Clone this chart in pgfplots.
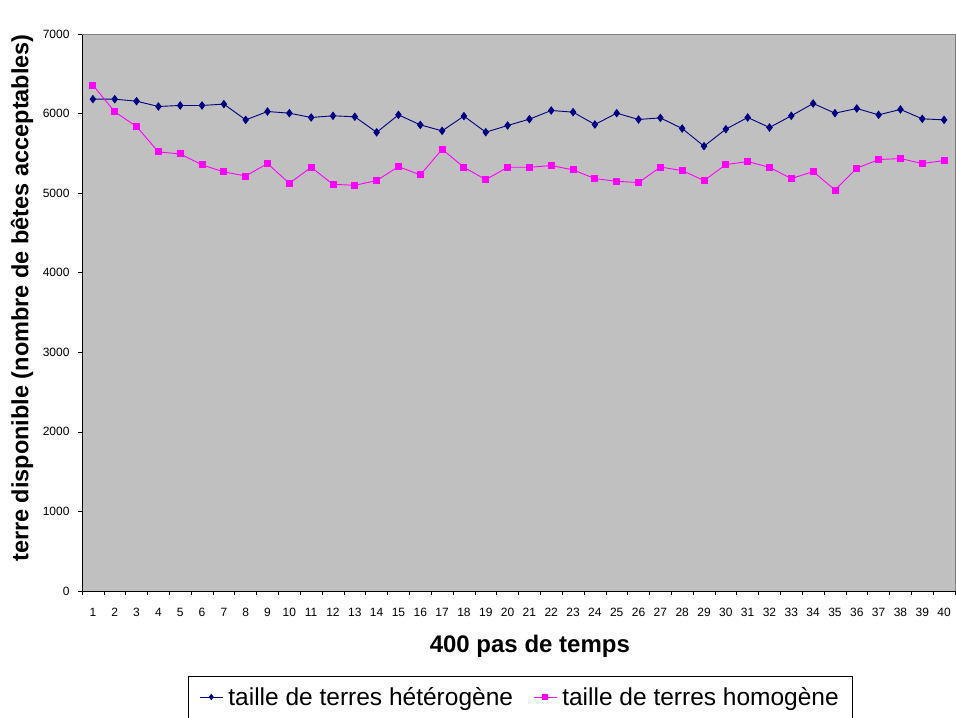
\documentclass[border=0pt]{standalone}
\usepackage{pgfplots}
\pgfplotsset{compat=1.18}
\usepackage{fontspec}
\setmainfont{Liberation Sans}
\definecolor{bgray}{HTML}{C0C0C0}
\definecolor{navyc}{HTML}{000080}
\definecolor{magc}{HTML}{FF00FF}
\begin{document}
\begin{tikzpicture}[x=1pt,y=1pt]
\begin{axis}[
  at={(0,0)}, anchor=south west,
  scale only axis, width=873pt, height=557pt,
  xmin=0.5, xmax=40.5, ymin=0, ymax=7000,
  axis x line*=bottom, axis y line*=left,
  axis line style={black, line width=0.8pt, -},
  axis background/.style={fill=bgray},
  xtick={1,...,40}, major x tick style={draw=none},
  minor xtick={0.5,1.5,...,40.5},
  minor tick length=4pt,
  minor x tick style={black, line width=0.6pt},
  ytick={0,1000,...,7000},
  major tick length=4pt,
  tick align=outside,
  major y tick style={black, line width=0.6pt},
  /pgf/number format/assume math mode=true,
  /pgf/number format/set thousands separator={},
  ticklabel style={font=\fontsize{12}{14}\selectfont, text=black},
  xticklabel style={yshift=-10pt},
  yticklabel style={xshift=-5pt},
  xlabel={400 pas de temps},
  ylabel={terre disponible (nombre de bêtes acceptables)},
  xlabel style={font=\bfseries\fontsize{24}{28}\selectfont, at={(axis description cs:0.513,-0.0987)}, anchor=center},
  ylabel style={font=\bfseries\fontsize{23.5}{27}\selectfont, at={(axis description cs:-0.0687,0.526)}, anchor=center},
  legend columns=2,
  legend style={at={(axis description cs:0.5017,-0.1526)}, anchor=north, draw=black, fill=white,
    font=\fontsize{24.5}{28}\selectfont,
    /tikz/every odd column/.append style={column sep=3pt},
    /tikz/every even column/.append style={column sep=18pt},
    inner xsep=11pt, inner ysep=9pt},
  legend image code/.code={\draw[mark repeat=2, mark phase=2, mark size=2.5pt] plot coordinates {(0cm,0cm) (0.41cm,0cm) (0.82cm,0cm)};},
  clip=false,
]
\addplot[navyc, line width=0.9pt, mark=diamond*, mark size=3.6pt, mark options={solid, fill=navyc}] coordinates {
(1,6181)(2,6181)(3,6156)(4,6089)(5,6102)(6,6102)(7,6119)(8,5921)(9,6026)(10,6005)
(11,5951)(12,5972)(13,5960)(14,5764)(15,5984)(16,5858)(17,5783)(18,5968)(19,5766)(20,5850)
(21,5930)(22,6039)(23,6018)(24,5863)(25,6005)(26,5926)(27,5946)(28,5812)(29,5590)(30,5804)
(31,5951)(32,5825)(33,5972)(34,6127)(35,6005)(36,6064)(37,5984)(38,6052)(39,5934)(40,5921)
};
\addlegendentry{taille de terres hétérogène}
\addplot[magc, line width=0.9pt, mark=square*, mark size=3pt, mark options={solid, fill=magc}] coordinates {
(1,6358)(2,6022)(3,5838)(4,5518)(5,5493)(6,5355)(7,5267)(8,5216)(9,5372)(10,5124)
(11,5325)(12,5111)(13,5099)(14,5158)(15,5334)(16,5229)(17,5552)(18,5325)(19,5170)(20,5325)
(21,5325)(22,5347)(23,5292)(24,5183)(25,5149)(26,5133)(27,5328)(28,5284)(29,5158)(30,5359)
(31,5397)(32,5325)(33,5183)(34,5271)(35,5040)(36,5313)(37,5422)(38,5435)(39,5372)(40,5410)
};
\addlegendentry{taille de terres homogène}
\draw[gray, line width=0.8pt] (rel axis cs:0,1) -- (rel axis cs:1,1) -- (rel axis cs:1,0);
\end{axis}
\path[use as bounding box] (-82,-120) rectangle (874,591);
\end{tikzpicture}
\end{document}
